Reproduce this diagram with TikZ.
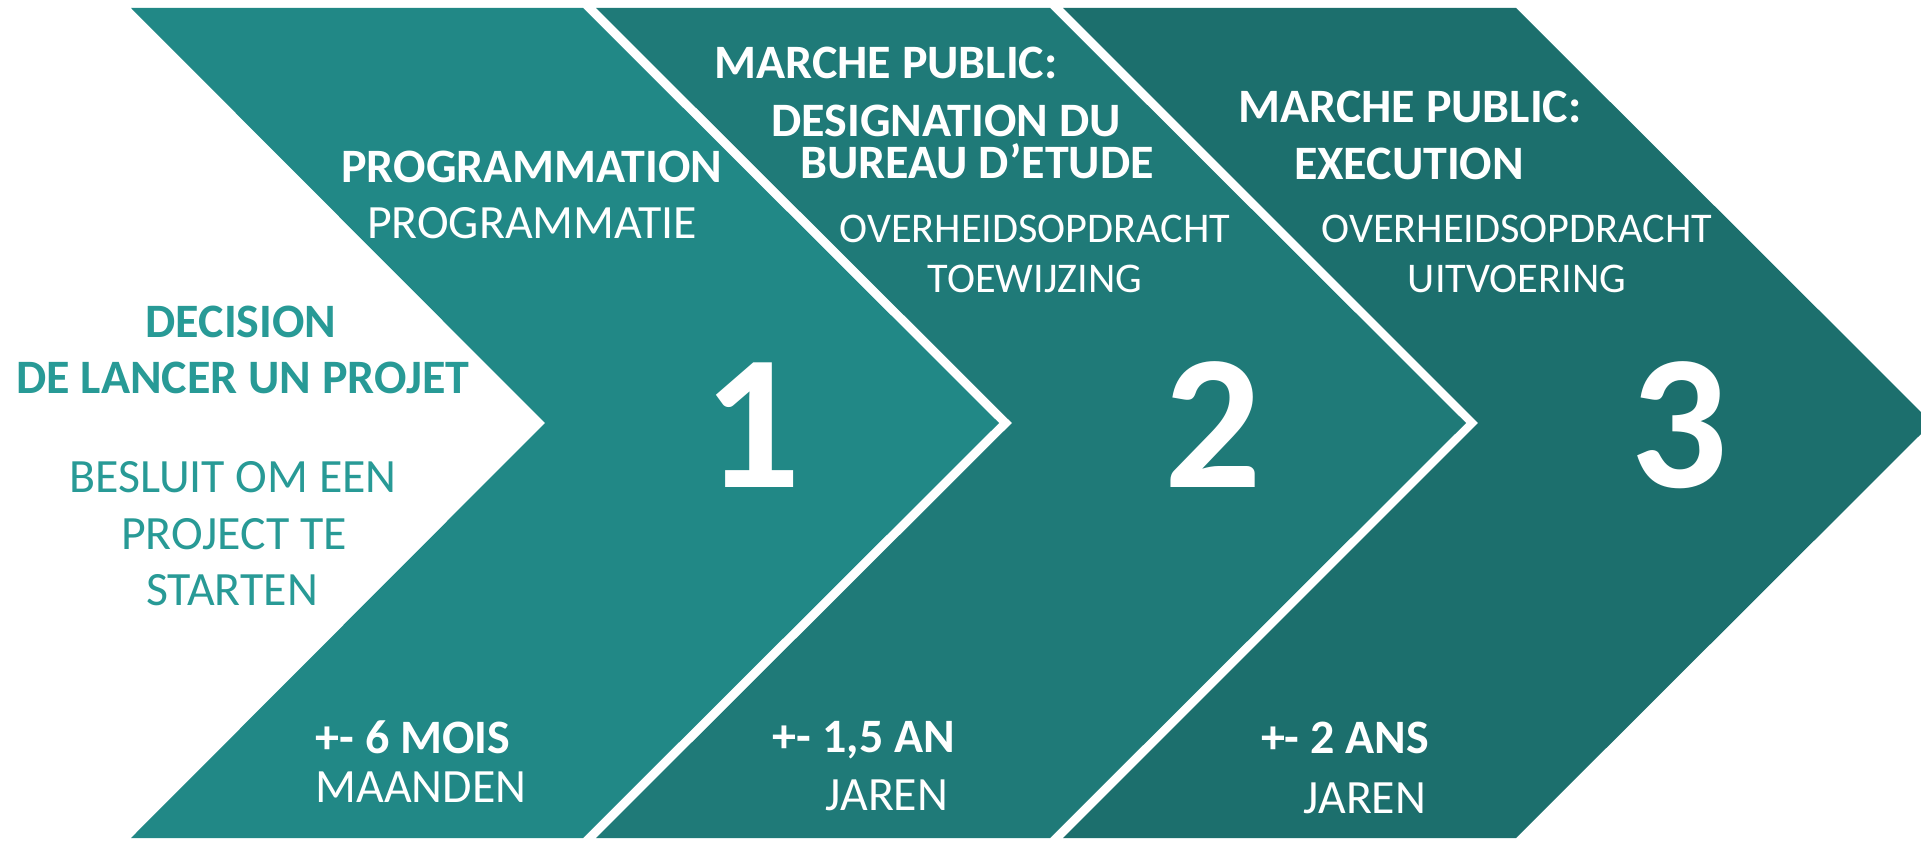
\documentclass[tikz,border=0pt]{standalone}
\usepackage{fontspec}
\setmainfont{Carlito}
\definecolor{cA}{HTML}{218886}
\definecolor{cB}{HTML}{1F7A78}
\definecolor{cC}{HTML}{1C6F6D}
\definecolor{tealtxt}{HTML}{289A96}
\begin{document}
\begin{tikzpicture}[x=1pt,y=-1pt,
  bt/.style={text=white,font=\fontsize{48}{56}\selectfont\bfseries,anchor=base,inner sep=0,text depth=0pt},
  rt/.style={text=white,font=\fontsize{47.8}{56}\selectfont,anchor=base,inner sep=0},
  st/.style={text=white,font=\fontsize{42.3}{50}\selectfont,anchor=base,inner sep=0},
  lbt/.style={bt,text=tealtxt},
  lrt/.style={rt,text=tealtxt},
  num/.style={text=white,font=\fontsize{192}{200}\selectfont\bfseries,anchor=base,inner sep=0}]
\useasboundingbox (0,0) rectangle (1921,843);
\clip (0,0) rectangle (1921,843);
\fill[white] (0,0) rectangle (1921,843);
% chevrons
\fill[cA] (131,8) -- (583,8) -- (999,423) -- (583,838) -- (131,838) -- (545,423) -- cycle;
\fill[cB] (596,8) -- (1050,8) -- (1466,423) -- (1050,838) -- (596,838) -- (1012,423) -- cycle;
\fill[cC] (1063,8) -- (1516,8) -- (1932,423) -- (1516,838) -- (1063,838) -- (1478,423) -- cycle;
% left texts
\node[lbt] (d1) at (241,337) {DECISION};
\node[lbt] (d2) at (243,393) {DE LANCER UN PROJET};
\node[lrt] (b1) at (233,492) {BESLUIT OM EEN};
\node[lrt] (b2) at (234,549) {PROJECT TE};
\node[lrt] (b3) at (232,605) {STARTEN};
% chevron 1
\node[bt] (p1) at (532,182) {PROGRAMMATION};
\node[rt] (p2) at (532,238) {PROGRAMMATIE};
\node[num] (n1) at (752,487) {1};
\node[bt] (t1) at (413,753) {+- 6 MOIS};
\node[rt] (t2) at (421,802) {MAANDEN};
% chevron 2
\node[bt] (m1) at (886,78) {MARCHE PUBLIC:};
\node[bt] (m2) at (946,136) {DESIGNATION DU};
\node[bt] (m3) at (977,178) {BUREAU D’ETUDE};
\node[st] (o1) at (1035,242) {OVERHEIDSOPDRACHT};
\node[st] (o2) at (1035,292) {TOEWIJZING};
\node[num] (n2) at (1213,487) {2};
\node[bt] (u1) at (864,752) {+- 1,5 AN};
\node[rt] (u2) at (887,810) {JAREN};
% chevron 3
\node[bt] (e1) at (1410,122) {MARCHE PUBLIC:};
\node[bt] (e2) at (1409,179) {EXECUTION};
\node[st] (f1) at (1517,242) {OVERHEIDSOPDRACHT};
\node[st] (f2) at (1517,292) {UITVOERING};
\node[num] (n3) at (1679,487) {3};
\node[bt] (v1) at (1345,753) {+- 2 ANS};
\node[rt] (v2) at (1365,813) {JAREN};
\end{tikzpicture}
\end{document}
